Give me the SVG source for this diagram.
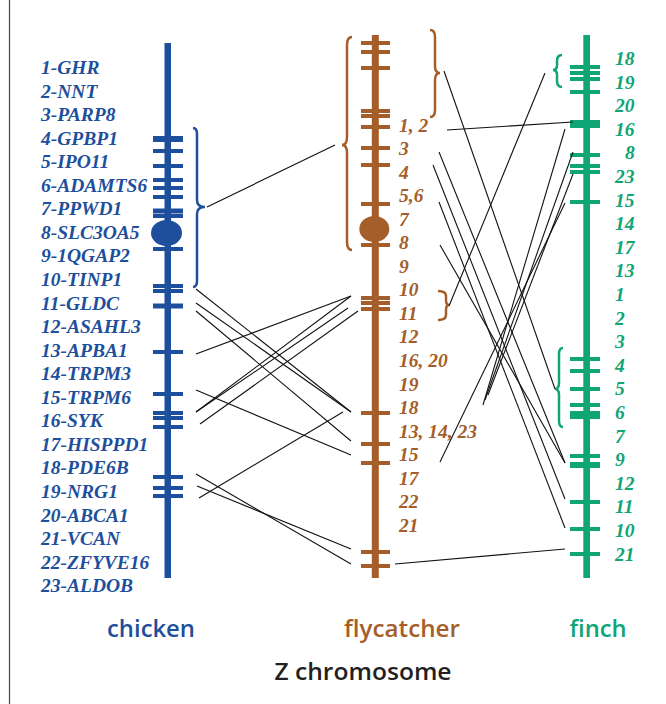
<svg xmlns="http://www.w3.org/2000/svg" width="666" height="704" viewBox="0 0 666 704">
<style>
.lbl{font-family:"Liberation Serif","Times New Roman",serif;font-weight:bold;font-style:italic;font-size:19.5px}
.ttl{font-family:"Open Sans","Noto Sans","Liberation Sans",sans-serif;font-weight:600;font-size:24px}
.blue{fill:#1e4f9c}.brown{fill:#a55e2a}.green{fill:#10a574}
.tb{stroke:#1e4f9c;stroke-width:4}.tr{stroke:#a55e2a;stroke-width:4}.tg{stroke:#10a574;stroke-width:4}
.brb{fill:none;stroke:#1e4f9c;stroke-width:2.5}.brr{fill:none;stroke:#a55e2a;stroke-width:2.5}.brg{fill:none;stroke:#10a574;stroke-width:2.5}
.con line{stroke:#111;stroke-width:1.1}
</style>
<rect width="666" height="704" fill="#fff"/>
<line x1="9.5" y1="0" x2="9.5" y2="704" stroke="#444" stroke-width="1.2"/>

<g id="chicken">
<rect x="164.5" y="43" width="6.5" height="535" class="blue"/>
<ellipse cx="166.5" cy="233" rx="15.5" ry="13" class="blue"/>
<g class="tb">
<line x1="153" y1="139" x2="183" y2="139" stroke-width="6"/>
<line x1="153" y1="151" x2="183" y2="151"/>
<line x1="153" y1="166" x2="183" y2="166"/>
<line x1="153" y1="180" x2="183" y2="180"/>
<line x1="153" y1="188" x2="183" y2="188"/>
<line x1="153" y1="197" x2="183" y2="197"/>
<line x1="153" y1="211" x2="183" y2="211" stroke-width="5"/>
<line x1="153" y1="216" x2="183" y2="216"/>
<line x1="153" y1="249" x2="183" y2="249"/>
<line x1="153" y1="286" x2="183" y2="286"/>
<line x1="153" y1="291" x2="183" y2="291"/>
<line x1="153" y1="306" x2="183" y2="306" stroke-width="5"/>
<line x1="153" y1="352" x2="183" y2="352"/>
<line x1="153" y1="394" x2="183" y2="394"/>
<line x1="153" y1="413" x2="183" y2="413"/>
<line x1="153" y1="418" x2="183" y2="418"/>
<line x1="153" y1="427" x2="183" y2="427"/>
<line x1="153" y1="477" x2="183" y2="477"/>
<line x1="153" y1="488" x2="183" y2="488"/>
<line x1="153" y1="496" x2="183" y2="496"/>
</g>
<path class="brb" d="M193 128 Q197 128 197 134 L197 200 Q197 207 205 207 Q197 207 197 214 L197 281 Q197 287 193 287"/>
<g class="lbl blue">
<text x="41" y="74">1-GHR</text>
<text x="41" y="97.6">2-NNT</text>
<text x="41" y="121.1">3-PARP8</text>
<text x="41" y="144.7">4-GPBP1</text>
<text x="41" y="168.2">5-IPO11</text>
<text x="41" y="191.8">6-ADAMTS6</text>
<text x="41" y="215.3">7-PPWD1</text>
<text x="41" y="238.9">8-SLC3OA5</text>
<text x="41" y="262.4">9-1QGAP2</text>
<text x="41" y="286">10-TINP1</text>
<text x="41" y="309.5">11-GLDC</text>
<text x="41" y="333.1">12-ASAHL3</text>
<text x="41" y="356.6">13-APBA1</text>
<text x="41" y="380.2">14-TRPM3</text>
<text x="41" y="403.7">15-TRPM6</text>
<text x="41" y="427.3">16-SYK</text>
<text x="41" y="450.8">17-HISPPD1</text>
<text x="41" y="474.4">18-PDE6B</text>
<text x="41" y="497.9">19-NRG1</text>
<text x="41" y="521.5">20-ABCA1</text>
<text x="41" y="545">21-VCAN</text>
<text x="41" y="568.6">22-ZFYVE16</text>
<text x="41" y="592.1">23-ALDOB</text>
</g>
<text class="ttl blue" x="151" y="637" text-anchor="middle" textLength="88" lengthAdjust="spacingAndGlyphs">chicken</text>
</g>

<g id="flycatcher">
<rect x="371.8" y="35" width="7" height="543" class="brown"/>
<ellipse cx="374.3" cy="229" rx="15" ry="13" class="brown"/>
<g class="tr">
<line x1="361" y1="43" x2="390" y2="43"/>
<line x1="361" y1="52" x2="390" y2="52"/>
<line x1="361" y1="68" x2="390" y2="68"/>
<line x1="361" y1="111" x2="390" y2="111"/>
<line x1="361" y1="116" x2="390" y2="116"/>
<line x1="361" y1="127" x2="390" y2="127"/>
<line x1="361" y1="148" x2="390" y2="148"/>
<line x1="361" y1="165" x2="390" y2="165"/>
<line x1="361" y1="204" x2="390" y2="204"/>
<line x1="361" y1="245" x2="390" y2="245"/>
<line x1="361" y1="298" x2="390" y2="298"/>
<line x1="361" y1="303" x2="390" y2="303"/>
<line x1="361" y1="309" x2="390" y2="309"/>
<line x1="361" y1="413" x2="390" y2="413"/>
<line x1="361" y1="444" x2="390" y2="444"/>
<line x1="361" y1="463" x2="390" y2="463"/>
<line x1="361" y1="552" x2="390" y2="552"/>
<line x1="361" y1="566" x2="390" y2="566"/>
</g>
<path class="brr" d="M352 37 Q347 37 347 45 L347 137 Q347 145 342 145 Q347 145 347 153 L347 242 Q347 250 352 250"/>
<path class="brr" d="M430 30 Q435 30 435 37 L435 66 Q435 73 440 73 Q435 73 435 80 L435 110 Q435 117 430 117"/>
<path class="brr" d="M438 291 Q446 291 446 296 L446 300 Q446 305 449 305 Q446 305 446 310 L446 315 Q446 320 438 320"/>
<g class="lbl brown">
<text x="399" y="131.5">1, 2</text>
<text x="399" y="155">3</text>
<text x="399" y="178.6">4</text>
<text x="399" y="202.1">5,6</text>
<text x="399" y="225.7">7</text>
<text x="399" y="249.2">8</text>
<text x="399" y="272.8">9</text>
<text x="399" y="296.3">10</text>
<text x="399" y="319.9">11</text>
<text x="399" y="343.4">12</text>
<text x="399" y="367">16, 20</text>
<text x="399" y="390.5">19</text>
<text x="399" y="414.1">18</text>
<text x="399" y="437.6">13, 14, 23</text>
<text x="399" y="461.2">15</text>
<text x="399" y="484.7">17</text>
<text x="399" y="508.3">22</text>
<text x="399" y="531.8">21</text>
</g>
<text class="ttl brown" x="402" y="637" text-anchor="middle" textLength="116" lengthAdjust="spacingAndGlyphs">flycatcher</text>
</g>

<g id="finch">
<rect x="583.3" y="35" width="6.7" height="543" class="green"/>
<g class="tg">
<line x1="570" y1="67" x2="600" y2="67"/>
<line x1="570" y1="73" x2="600" y2="73"/>
<line x1="570" y1="79" x2="600" y2="79"/>
<line x1="570" y1="92" x2="600" y2="92"/>
<line x1="570" y1="122" x2="600" y2="122"/>
<line x1="570" y1="126" x2="600" y2="126"/>
<line x1="570" y1="155" x2="600" y2="155"/>
<line x1="570" y1="166" x2="600" y2="166"/>
<line x1="570" y1="172" x2="600" y2="172"/>
<line x1="570" y1="202" x2="600" y2="202"/>
<line x1="570" y1="359" x2="600" y2="359"/>
<line x1="570" y1="371" x2="600" y2="371"/>
<line x1="570" y1="389" x2="600" y2="389"/>
<line x1="570" y1="405" x2="600" y2="405"/>
<line x1="570" y1="413" x2="600" y2="413"/>
<line x1="570" y1="417" x2="600" y2="417"/>
<line x1="570" y1="456" x2="600" y2="456"/>
<line x1="570" y1="465" x2="600" y2="465" stroke-width="6"/>
<line x1="570" y1="502" x2="600" y2="502"/>
<line x1="570" y1="529" x2="600" y2="529"/>
<line x1="570" y1="554" x2="600" y2="554"/>
</g>
<path class="brg" d="M562 55 Q557 55 557 61 L557 65 Q557 70 553 70 Q557 70 557 75 L557 81 Q557 87 562 87"/>
<path class="brg" d="M563 348 Q559 348 559 354 L559 383 Q559 389 555 389 Q559 389 559 395 L559 421 Q559 427 563 427"/>
<g class="lbl green">
<text x="615" y="65">18</text>
<text x="615" y="88.6">19</text>
<text x="615" y="112.2">20</text>
<text x="615" y="135.8">16</text>
<text x="625" y="159.4">8</text>
<text x="615" y="183">23</text>
<text x="615" y="206.6">15</text>
<text x="615" y="230.2">14</text>
<text x="615" y="253.8">17</text>
<text x="615" y="277.4">13</text>
<text x="615" y="301">1</text>
<text x="615" y="324.6">2</text>
<text x="615" y="348.2">3</text>
<text x="615" y="371.8">4</text>
<text x="615" y="395.4">5</text>
<text x="615" y="419">6</text>
<text x="615" y="442.6">7</text>
<text x="615" y="466.2">9</text>
<text x="615" y="489.8">12</text>
<text x="615" y="513.4">11</text>
<text x="615" y="537">10</text>
<text x="615" y="560.6">21</text>
</g>
<text class="ttl green" x="598" y="637" text-anchor="middle" textLength="57" lengthAdjust="spacingAndGlyphs">finch</text>
</g>

<g id="connectors" class="con">
<line x1="207" y1="207" x2="335" y2="145"/>
<line x1="196" y1="289" x2="351" y2="412"/>
<line x1="196" y1="303" x2="351" y2="412"/>
<line x1="196" y1="311" x2="351" y2="441"/>
<line x1="196" y1="354" x2="351" y2="296"/>
<line x1="196" y1="412" x2="351" y2="296"/>
<line x1="196" y1="412" x2="348" y2="308"/>
<line x1="200" y1="424" x2="358" y2="311"/>
<line x1="196" y1="390" x2="351" y2="455"/>
<line x1="199" y1="498" x2="343" y2="412"/>
<line x1="196" y1="474" x2="351" y2="564"/>
<line x1="197" y1="486" x2="351" y2="549"/>
<line x1="447" y1="130" x2="573" y2="122"/>
<line x1="444" y1="71" x2="555" y2="389"/>
<line x1="449" y1="306" x2="545" y2="73"/>
<line x1="439" y1="152" x2="565" y2="463"/>
<line x1="433" y1="165" x2="565" y2="499"/>
<line x1="439" y1="202" x2="565" y2="528"/>
<line x1="440" y1="245" x2="565" y2="463"/>
<line x1="440" y1="462" x2="565" y2="203"/>
<line x1="483" y1="405" x2="565" y2="129"/>
<line x1="485" y1="400" x2="573" y2="152"/>
<line x1="488" y1="395" x2="573" y2="174"/>
<line x1="395" y1="564" x2="565" y2="549"/>
</g>

<text id="title" class="ttl" x="363" y="680" text-anchor="middle" fill="#231f20" textLength="177" lengthAdjust="spacingAndGlyphs">Z chromosome</text>
</svg>
